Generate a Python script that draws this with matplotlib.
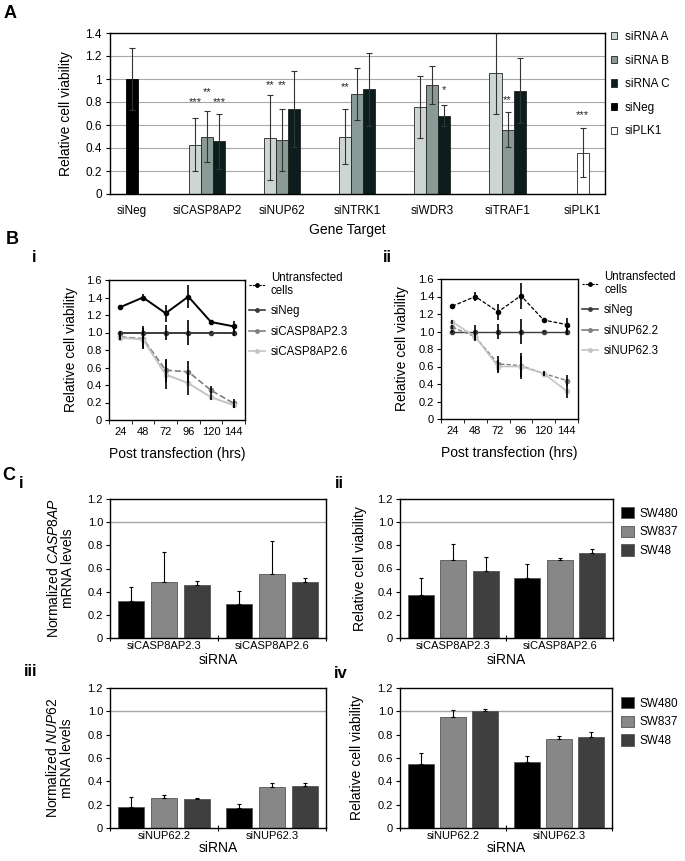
import numpy as np
import matplotlib
matplotlib.use('Agg')
import matplotlib.pyplot as plt
from matplotlib.patches import Patch
from matplotlib.lines import Line2D

plt.rcParams['font.family'] = ['Liberation Sans', 'DejaVu Sans']
plt.rcParams['mathtext.fontset'] = 'custom'
plt.rcParams['mathtext.rm'] = 'Liberation Sans'
plt.rcParams['mathtext.it'] = 'Liberation Sans:italic'

# ---------------- data, panel A
genes = ['siNeg', 'siCASP8AP2', 'siNUP62', 'siNTRK1', 'siWDR3', 'siTRAF1', 'siPLK1']
sirna_a = [0.43, 0.49, 0.50, 0.76, 1.05]
sirna_a_err = [0.23, 0.37, 0.235, 0.27, 0.35]
sirna_b = [0.50, 0.47, 0.87, 0.95, 0.56]
sirna_b_err = [0.22, 0.27, 0.225, 0.165, 0.15]
sirna_c = [0.46, 0.74, 0.91, 0.68, 0.90]
sirna_c_err = [0.24, 0.33, 0.32, 0.09, 0.28]
sineg_val = [1.0]
sineg_err = [0.27]
siplk1_val = [0.36]
siplk1_err = [0.21]
# significance marks: gene, series (0=A,1=B,2=C, None=single bar), text, height
stars = [('siCASP8AP2', 0, '***', 0.80), ('siCASP8AP2', 1, '**', 0.89),
         ('siCASP8AP2', 2, '***', 0.80), ('siNUP62', 0, '**', 0.95),
         ('siNUP62', 1, '**', 0.95), ('siNTRK1', 0, '**', 0.93),
         ('siWDR3', 2, '*', 0.90), ('siTRAF1', 1, '**', 0.82),
         ('siPLK1', None, '***', 0.69)]

# ---------------- data, panel B
hours = ['24', '48', '72', '96', '120', '144']
untrans = [1.29, 1.40, 1.22, 1.41, 1.12, 1.07]
untrans_err = [0.01, 0.045, 0.095, 0.13, 0.01, 0.06]
untrans2 = [1.29, 1.40, 1.225, 1.41, 1.13, 1.08]
untrans2_err = [0.01, 0.05, 0.095, 0.15, 0.01, 0.07]
sineg_t = [1.0, 1.0, 1.0, 1.0, 1.0, 1.0]
sineg_t_err = [0.02, 0.07, 0.09, 0.14, 0.01, 0.04]
casp23 = [0.95, 0.93, 0.57, 0.55, 0.34, 0.19]
casp23_err = [0.04, 0.12, 0.13, 0.13, 0.05, 0.05]
casp26 = [0.94, 0.92, 0.52, 0.42, 0.26, 0.17]
casp26_err = [0.03, 0.10, 0.17, 0.13, 0.03, 0.03]
nup22 = [1.05, 0.94, 0.63, 0.61, 0.52, 0.44]
nup22_err = [0.02, 0.05, 0.095, 0.15, 0.03, 0.06]
nup23 = [1.11, 0.94, 0.60, 0.60, 0.52, 0.32]
nup23_err = [0.02, 0.04, 0.07, 0.12, 0.02, 0.085]

# ---------------- data, panel C  (rows: SW480, SW837, SW48)
cells = ['SW480', 'SW837', 'SW48']
casp_sirnas = ['siCASP8AP2.3', 'siCASP8AP2.6']
casp_mrna = [[0.32, 0.29], [0.48, 0.55], [0.46, 0.48]]
casp_mrna_err = [[0.12, 0.12], [0.26, 0.29], [0.03, 0.04]]
casp_viab = [[0.37, 0.52], [0.67, 0.67], [0.58, 0.73]]
casp_viab_err = [[0.15, 0.12], [0.14, 0.02], [0.12, 0.04]]
nup_sirnas = ['siNUP62.2', 'siNUP62.3']
nup_mrna = [[0.18, 0.17], [0.26, 0.35], [0.25, 0.36]]
nup_mrna_err = [[0.09, 0.04], [0.02, 0.04], [0.01, 0.03]]
nup_viab = [[0.55, 0.57], [0.95, 0.76], [1.00, 0.78]]
nup_viab_err = [[0.09, 0.05], [0.06, 0.03], [0.02, 0.04]]

W, H = 685, 861
fig = plt.figure(figsize=(W / 100, H / 100), dpi=100)


def axes_px(left, top, right, bottom):
    return fig.add_axes([left / W, 1 - bottom / H, (right - left) / W, (bottom - top) / H])


def fig_text(x, y, s, **kw):
    fig.text(x / W, 1 - y / H, s, ha='center', va='center', **kw)


def frame(ax):
    for sp in ax.spines.values():
        sp.set_linewidth(1.0)
        sp.set_color('black')


# ================= A
axA = axes_px(110, 33, 605, 194)
frame(axA)
xg = np.arange(len(genes))
mid = xg[1:6]
bw = 0.16
errA = dict(ecolor='#333333', elinewidth=0.8, capsize=2, capthick=0.8)
axA.set_axisbelow(True)
axA.yaxis.grid(True, color='#a8a8a8', lw=0.8)
colsA = ['#cdd6d3', '#8a9a96', '#0c1d1d']
axA.bar(mid - bw, sirna_a, bw, yerr=sirna_a_err, color=colsA[0], edgecolor='#222222', lw=0.6, error_kw=errA)
axA.bar(mid, sirna_b, bw, yerr=sirna_b_err, color=colsA[1], edgecolor='#222222', lw=0.6, error_kw=errA)
axA.bar(mid + bw, sirna_c, bw, yerr=sirna_c_err, color=colsA[2], edgecolor='#222222', lw=0.6, error_kw=errA)
axA.bar(xg[:1], sineg_val, bw, yerr=sineg_err, color='black', edgecolor='black', lw=0.6, error_kw=errA)
axA.bar(xg[6:], siplk1_val, bw, yerr=siplk1_err, color='white', edgecolor='#222222', lw=0.6, error_kw=errA)
for g, s, txt, y in stars:
    xx = genes.index(g) + (0 if s is None else (s - 1) * bw)
    axA.text(xx, y, txt, ha='center', va='center', fontsize=8, color='#222222')
axA.set_xlim(-0.293, 6.298)
axA.set_ylim(0, 1.4)
axA.set_yticks(np.arange(0, 1.41, 0.2))
axA.set_yticklabels(['0', '0.2', '0.4', '0.6', '0.8', '1', '1.2', '1.4'])
axA.set_xticks(xg)
axA.set_xticklabels(genes)
axA.tick_params(axis='x', length=0, labelsize=8.5, pad=8)
axA.tick_params(axis='y', length=3, labelsize=8.5, pad=3)
axA.set_ylabel('Relative cell viability', fontsize=10)
axA.yaxis.set_label_coords(-0.075, 0.5)
axA.text(0.48, -(230 - 194) / 161, 'Gene Target', transform=axA.transAxes,
         ha='center', va='center', fontsize=10)
legA = [Patch(facecolor=colsA[0], edgecolor='#222222', lw=0.6, label='siRNA A'),
        Patch(facecolor=colsA[1], edgecolor='#222222', lw=0.6, label='siRNA B'),
        Patch(facecolor=colsA[2], edgecolor='#222222', lw=0.6, label='siRNA C'),
        Patch(facecolor='black', edgecolor='black', lw=0.6, label='siNeg'),
        Patch(facecolor='white', edgecolor='#222222', lw=0.6, label='siPLK1')]
fig.legend(handles=legA, loc='upper left', bbox_to_anchor=(611 / W, 1 - 31 / H),
           frameon=False, fontsize=8.5, handlelength=0.55, handleheight=0.55,
           handletextpad=0.6, labelspacing=0.98, borderaxespad=0, borderpad=0)


# ================= B
def time_panel(ax, series, leg_labels, ylab_x):
    frame(ax)
    x = np.arange(len(hours))
    for vals, errs, color, ls, lw in series:
        ax.plot(x, vals, color=color, ls=ls, lw=lw, marker='o', ms=3, zorder=2)
        ax.errorbar(x, vals, yerr=errs, fmt='none', ecolor='black', elinewidth=1.2, capsize=0, zorder=3)
    ax.set_xlim(-0.5, len(hours) - 0.5)
    ax.set_ylim(0, 1.6)
    ax.set_xticks(x)
    ax.set_xticklabels(hours)
    ax.set_xticks(np.arange(-0.5, len(hours)), minor=True)
    ax.tick_params(axis='x', which='major', length=0, labelsize=8, pad=5)
    ax.tick_params(axis='x', which='minor', length=3, direction='out')
    ax.set_yticks(np.arange(0, 1.61, 0.2))
    ax.set_yticklabels(['0'] + ['%.1f' % v for v in np.arange(0.2, 1.61, 0.2)])
    ax.tick_params(axis='y', length=3, labelsize=8, pad=2)
    ax.set_ylabel('Relative cell viability', fontsize=10)
    ax.yaxis.set_label_coords(ylab_x, 0.5)
    ax.set_xlabel('Post transfection (hrs)', fontsize=10, labelpad=7)
    handles = [Line2D([], [], color='black', ls=(0, (2, 1)), lw=0.8, marker='o', ms=2.5),
               Line2D([], [], color=series[1][2], lw=1.2, marker='o', ms=2.5),
               Line2D([], [], color=series[2][2], lw=1.2, marker='o', ms=2.5),
               Line2D([], [], color=series[3][2], lw=1.2, marker='o', ms=2.5)]
    ax.legend(handles, leg_labels, loc='upper left', bbox_to_anchor=(1.03, 1.06),
              frameon=False, fontsize=8.3, handlelength=1.4, handletextpad=0.5,
              labelspacing=0.7, borderaxespad=0, borderpad=0)


axBi = axes_px(109, 280, 245, 420)
time_panel(axBi, [(untrans, untrans_err, 'black', '-', 1.4),
                  (sineg_t, sineg_t_err, '#3c3c3c', '-', 1.4),
                  (casp23, casp23_err, '#7f7f7f', '--', 1.2),
                  (casp26, casp26_err, '#c4c4c4', '-', 1.4)],
           ['Untransfected\ncells', 'siNeg', 'siCASP8AP2.3', 'siCASP8AP2.6'], -0.228)
axBii = axes_px(441, 279, 578, 419)
time_panel(axBii, [(untrans2, untrans2_err, 'black', (0, (3, 1.5)), 0.9),
                   (sineg_t, sineg_t_err, '#3c3c3c', '-', 1.0),
                   (nup22, nup22_err, '#7f7f7f', (0, (3, 1.5)), 1.0),
                   (nup23, nup23_err, '#c4c4c4', '-', 1.2)],
           ['Untransfected\ncells', 'siNeg', 'siNUP62.2', 'siNUP62.3'], -0.234)

# ================= C
cell_cols = ['#000000', '#878787', '#3f3f3f']


def cell_panel(ax, sirnas, vals, errs, ylab, ylab_x, xlab_dy):
    frame(ax)
    x = np.arange(len(sirnas))
    for k in range(len(cells)):
        ax.bar(x + (k - 1) * 0.305, vals[k], 0.245, color=cell_cols[k], edgecolor='#555555', lw=0.6,
               yerr=[np.zeros(len(sirnas)), errs[k]],
               error_kw=dict(ecolor='black', elinewidth=0.8, capsize=1.5, capthick=0.8),
               label=cells[k], zorder=2)
    ax.axhline(1.0, color='#a6a6a6', lw=1.0, zorder=1)
    ax.set_xlim(-0.5, len(sirnas) - 0.5)
    ax.set_ylim(0, 1.2)
    ax.set_xticks(np.arange(-0.5, len(sirnas)))
    ax.set_xticklabels([])
    ax.tick_params(axis='x', which='major', length=5, direction='inout')
    ax.set_xticks(x, minor=True)
    ax.set_xticklabels(sirnas, minor=True)
    ax.tick_params(axis='x', which='minor', length=0, labelsize=8, pad=2)
    ax.set_yticks(np.arange(0, 1.21, 0.2))
    ax.set_yticklabels(['0'] + ['%.1f' % v for v in np.arange(0.2, 1.21, 0.2)])
    ax.tick_params(axis='y', length=3, labelsize=8, pad=2)
    ax.set_ylabel(ylab, fontsize=10, linespacing=1.0)
    ax.yaxis.set_label_coords(ylab_x, 0.5)
    ax.text(0.5, -xlab_dy, 'siRNA', transform=ax.transAxes, ha='center', va='center', fontsize=10)


axCi = axes_px(110, 499, 326, 638)
cell_panel(axCi, casp_sirnas, casp_mrna, casp_mrna_err,
           'Normalized $\\mathit{CASP8AP}$\nmRNA levels', -0.16, 22 / 139)
axCii = axes_px(400, 499, 613, 638)
cell_panel(axCii, casp_sirnas, casp_viab, casp_viab_err,
           'Relative cell viability', -0.155, 22 / 139)
axCiii = axes_px(110, 688, 326, 828)
cell_panel(axCiii, nup_sirnas, nup_mrna, nup_mrna_err,
           'Normalized $\\mathit{NUP62}$\nmRNA levels', -0.165, 20 / 140)
axCiv = axes_px(400, 688, 612, 828)
cell_panel(axCiv, nup_sirnas, nup_viab, nup_viab_err,
           'Relative cell viability', -0.17, 20 / 140)
for ax, top in [(axCii, 507), (axCiv, 697)]:
    ax.legend(loc='upper left', bbox_to_anchor=(621 / W, 1 - top / H), bbox_transform=fig.transFigure,
              frameon=False, fontsize=8.5, handlelength=1.1, handleheight=1.1,
              handletextpad=0.5, labelspacing=0.5, borderaxespad=0, borderpad=0)

# ================= panel letters
fig_text(10, 14, 'A', fontsize=13, fontweight='bold')
fig_text(12, 239, 'B', fontsize=13, fontweight='bold')
fig_text(34, 258, 'i', fontsize=12, fontweight='bold')
fig_text(387, 257, 'ii', fontsize=12, fontweight='bold')
fig_text(9, 475, 'C', fontsize=13, fontweight='bold')
fig_text(21, 483, 'i', fontsize=12, fontweight='bold')
fig_text(339, 483, 'ii', fontsize=12, fontweight='bold')
fig_text(31, 671, 'iii', fontsize=12, fontweight='bold')
fig_text(341, 673, 'iv', fontsize=12, fontweight='bold')

fig.savefig('out.png', dpi=100)
